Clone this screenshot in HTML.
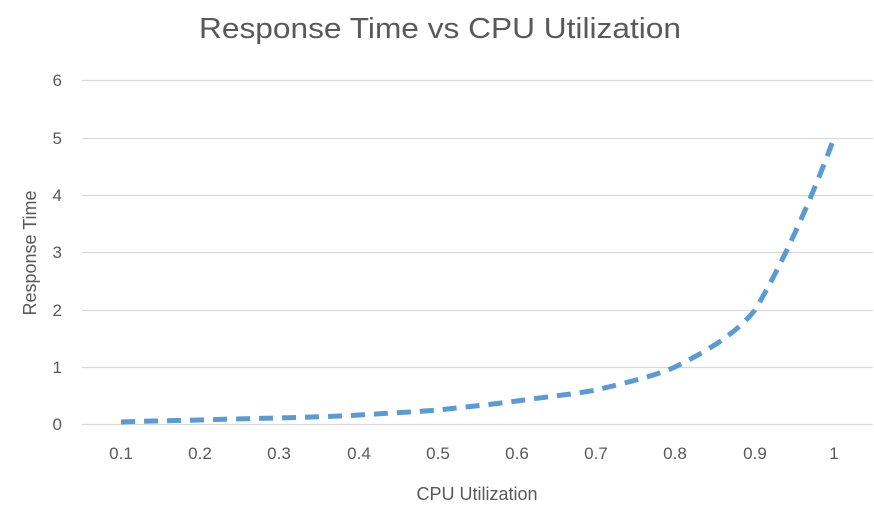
<!DOCTYPE html>
<html><head><meta charset="utf-8"><style>
html,body{margin:0;padding:0;background:#fff;}
svg{display:block;font-family:"Liberation Sans",sans-serif;}
</style></head><body>
<svg width="874" height="520" viewBox="0 0 874 520">
<rect width="874" height="520" fill="#fff"/>
<text x="440" y="38" text-anchor="middle" font-size="29" fill="#595959" textLength="482" lengthAdjust="spacingAndGlyphs">Response Time vs CPU Utilization</text>
<g stroke="#d9d9d9" stroke-width="1.3">
<line x1="82" x2="873" y1="424.5" y2="424.5"/>
<line x1="82" x2="873" y1="367.5" y2="367.5"/>
<line x1="82" x2="873" y1="310.5" y2="310.5"/>
<line x1="82" x2="873" y1="252.5" y2="252.5"/>
<line x1="82" x2="873" y1="195.5" y2="195.5"/>
<line x1="82" x2="873" y1="138.5" y2="138.5"/>
<line x1="82" x2="873" y1="80.5" y2="80.5"/>
</g>
<g font-size="17" fill="#595959" text-anchor="end">
<text x="62" y="430">0</text><text x="62" y="373">1</text><text x="62" y="316">2</text>
<text x="62" y="258">3</text><text x="62" y="201">4</text><text x="62" y="144">5</text><text x="62" y="86">6</text>
</g>
<g font-size="17" fill="#595959" text-anchor="middle">
<text x="121" y="459">0.1</text><text x="200" y="459">0.2</text><text x="279" y="459">0.3</text>
<text x="359" y="459">0.4</text><text x="438" y="459">0.5</text><text x="517" y="459">0.6</text>
<text x="596" y="459">0.7</text><text x="675" y="459">0.8</text><text x="755" y="459">0.9</text><text x="834" y="459">1</text>
</g>
<text x="477" y="500" text-anchor="middle" font-size="18" fill="#595959">CPU Utilization</text>
<text transform="translate(36,253) rotate(-90)" text-anchor="middle" font-size="18" fill="#595959">Response Time</text>
<path d="M121,422 C150,421 175,420.5 200,420 C230,419 255,418.5 279,418 C310,417 335,416.5 359,415 C390,413 415,412 438,410 C465,407 495,404 517,401 C545,397 575,394 596,390 C625,383 655,376 675,367 C705,352 735,335 755,310 C785,260 815,190 834,138" fill="none" stroke="#5b9bd5" stroke-width="5" stroke-dasharray="14,9"/>
</svg>
</body></html>
